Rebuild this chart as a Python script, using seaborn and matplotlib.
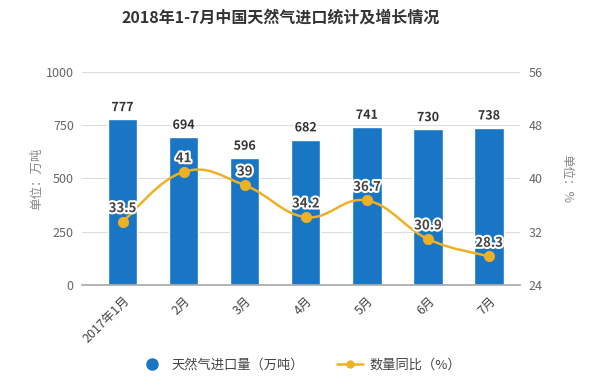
import matplotlib
matplotlib.use("Agg")
import matplotlib.pyplot as plt
import seaborn as sns
import pandas as pd
import numpy as np
from matplotlib.path import Path
from matplotlib.patches import PathPatch
from matplotlib.lines import Line2D
import matplotlib.patheffects as pe

months = ["2017年1月", "2月", "3月", "4月", "5月", "6月", "7月"]
imports = [777, 694, 596, 682, 741, 730, 738]
growth = [33.5, 41, 39, 34.2, 36.7, 30.9, 28.3]
growth_labels = ["33.5", "41", "39", "34.2", "36.7", "30.9", "28.3"]
left_ticks = [0, 250, 500, 750, 1000]
right_ticks = [24, 32, 40, 48, 56]

sns.set_theme(style="white")
plt.rcParams['font.family'] = ['Noto Sans CJK SC', 'DejaVu Sans']

BLUE = "#1976c4"
GOLD = "#eeb126"
GREY = "#666666"

df = pd.DataFrame({"month": months, "imports": imports, "growth": growth})

fig = plt.figure(figsize=(6, 3.91), dpi=100)
ax = fig.add_axes([0.137, 0.271, 0.73, 0.545])

sns.barplot(data=df, x="month", y="imports", color=BLUE, width=0.48,
            saturation=1, ax=ax, zorder=2)
ax.set_xlim(-0.66, 6.51)
ax.set_ylim(0, 1000)
ax.set_yticks(left_ticks)
ax.grid(axis="y", color="#dddddd", linewidth=0.8, zorder=0)
ax.set_axisbelow(True)
for s in ["top", "right", "left"]:
    ax.spines[s].set_visible(False)
ax.spines["bottom"].set_color("#aaaaaa")
ax.tick_params(axis="y", length=0, labelsize=9, labelcolor=GREY, pad=6)
ax.tick_params(axis="x", length=3, color="#aaaaaa", labelsize=9, labelcolor="#444444")
ax.set_xlabel("")
ax.set_ylabel("单位：万吨", color="#888888", fontsize=9, labelpad=2)
plt.setp(ax.get_xticklabels(), rotation=45, ha="right", rotation_mode="anchor")

for i, v in enumerate(imports):
    ax.text(i, v + 25, str(v), ha="center", va="bottom", fontsize=9,
            fontweight="bold", color="#333333",
            path_effects=[pe.withStroke(linewidth=2.5, foreground="white")])

ax2 = ax.twinx()
ax2.set_ylim(24, 56)
ax2.set_yticks(right_ticks)
for s in ["top", "right", "left", "bottom"]:
    ax2.spines[s].set_visible(False)
ax2.tick_params(axis="y", length=0, labelsize=9, labelcolor=GREY, pad=6)

# smooth curve through the data points (Catmull-Rom as cubic Bezier)
xs = np.arange(len(growth), dtype=float)
ys = np.array(growth, dtype=float)
verts = [(xs[0], ys[0])]
codes = [Path.MOVETO]
t = 0.2
for i in range(len(xs) - 1):
    p0 = (xs[max(i - 1, 0)], ys[max(i - 1, 0)])
    p1 = (xs[i], ys[i])
    p2 = (xs[i + 1], ys[i + 1])
    p3 = (xs[min(i + 2, len(xs) - 1)], ys[min(i + 2, len(xs) - 1)])
    c1 = (p1[0] + (p2[0] - p0[0]) * t, p1[1] + (p2[1] - p0[1]) * t)
    c2 = (p2[0] - (p3[0] - p1[0]) * t, p2[1] - (p3[1] - p1[1]) * t)
    verts += [c1, c2, p2]
    codes += [Path.CURVE4] * 3
ax2.add_patch(PathPatch(Path(verts, codes), facecolor="none", edgecolor=GOLD,
                        linewidth=1.8, zorder=3))
sns.scatterplot(data=df, x="month", y="growth", color=GOLD, s=55,
                edgecolor=GOLD, ax=ax2, zorder=4, legend=False)
ax2.set_xlim(-0.66, 6.51)
ax2.set_ylabel("单位：%", color="#888888", fontsize=9, rotation=-90, labelpad=22)

for i, (v, lab) in enumerate(zip(growth, growth_labels)):
    ax2.text(i, v + 1.0, lab, ha="center", va="bottom", fontsize=9.5,
             fontweight="bold", color="#444444",
             path_effects=[pe.withStroke(linewidth=3, foreground="white")])

fig.text(0.467, 0.955, "2018年1-7月中国天然气进口统计及增长情况", ha="center",
         va="center", fontsize=11.5, fontweight="bold", color="#333333")

handles = [
    Line2D([], [], marker="o", linestyle="none", color=BLUE, markersize=8),
    Line2D([], [], marker="o", color=GOLD, markersize=5, linewidth=1.8),
]
fig.legend(handles, ["天然气进口量（万吨）", "数量同比（%）"], loc="center",
           bbox_to_anchor=(0.5, 0.065), ncol=2, frameon=False, fontsize=9.5,
           columnspacing=2.5, handletextpad=0.5, labelcolor="#444444")

fig.savefig("out.png", dpi=100)
